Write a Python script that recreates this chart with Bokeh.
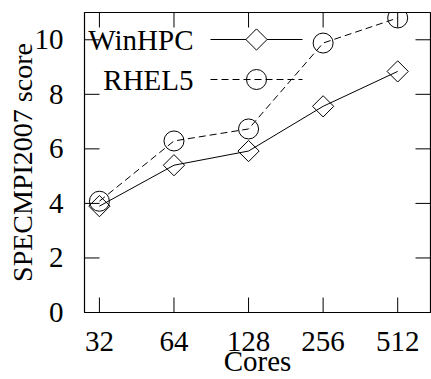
import numpy as np
from bokeh.plotting import figure
from bokeh.models import FixedTicker, Label, Range1d
from bokeh.embed import file_html
from bokeh.resources import INLINE

cores = [32, 64, 128, 256, 512]
core_labels = ["32", "64", "128", "256", "512"]
winhpc = [3.9, 5.4, 5.92, 7.56, 8.84]
rhel5 = [4.08, 6.29, 6.73, 9.88, 10.8]
y_ticks = [0, 2, 4, 6, 8, 10]
series_names = ["WinHPC", "RHEL5"]
x_title = "Cores"
y_title = "SPECMPI2007 score"

FONT = "Liberation Serif"
FS = "29px"

# frame geometry (px)
FW, FH = 346, 300
LX0, LX1 = 4.8, 9.44   # log2 range of x
Y0, Y1 = 0, 11
TICK = 15

p = figure(width=431, height=379, output_backend="svg", toolbar_location=None,
           x_axis_type="log", x_range=Range1d(2**LX0, 2**LX1), y_range=Range1d(Y0, Y1),
           min_border_left=84, min_border_bottom=67, min_border_top=12, min_border_right=1)
p.grid.visible = False
p.outline_line_color = "black"
p.outline_line_width = 1.2
p.background_fill_color = "white"
p.border_fill_color = "white"

def px2x(px):
    return 2 ** (LX0 + (LX1 - LX0) * px / FW)

def px2y(px):
    return Y0 + (Y1 - Y0) * px / FH

def style(ax):
    ax.major_tick_in = 0
    ax.major_tick_out = 0
    ax.minor_tick_line_color = None
    ax.axis_line_color = "black"
    ax.major_label_text_font = FONT
    ax.major_label_text_font_size = FS
    ax.major_label_text_color = "black"
    ax.axis_label_text_font = FONT
    ax.axis_label_text_font_size = FS
    ax.axis_label_text_font_style = "normal"
    ax.axis_label_text_color = "black"

xa = p.xaxis[0]
xa.ticker = FixedTicker(ticks=cores)
xa.major_label_overrides = {c: l for c, l in zip(cores, core_labels)}
xa.axis_label = x_title
style(xa)
xa.major_label_standoff = 19
xa.axis_label_standoff = -9

ya = p.yaxis[0]
ya.ticker = FixedTicker(ticks=y_ticks)
ya.axis_label = y_title
style(ya)
ya.axis_label_text_font_size = "28px"
ya.major_label_standoff = 21
ya.axis_label_standoff = -6

# inward ticks on all four sides
dy = px2y(TICK) - Y0
p.segment(x0=cores, y0=[Y0] * len(cores), x1=cores, y1=[Y0 + dy] * len(cores),
          line_color="black", line_width=1)
p.segment(x0=cores, y0=[Y1] * len(cores), x1=cores, y1=[Y1 - dy] * len(cores),
          line_color="black", line_width=1)
xl, xr = 2 ** LX0, 2 ** LX1
fx = px2x(TICK) / xl
p.segment(x0=[xl] * len(y_ticks), y0=y_ticks, x1=[xl * fx] * len(y_ticks), y1=y_ticks,
          line_color="black", line_width=1)
p.segment(x0=[xr] * len(y_ticks), y0=y_ticks, x1=[xr / fx] * len(y_ticks), y1=y_ticks,
          line_color="black", line_width=1)

p.line(cores, winhpc, line_color="black", line_width=1)
p.scatter(cores, winhpc, marker="square", angle=np.pi/4, size=15,
          fill_alpha=0, line_color="black", line_width=1)
p.line(cores, rhel5, line_color="black", line_width=1, line_dash="7 4")
p.scatter(cores, rhel5, marker="circle", size=20,
          fill_alpha=0, line_color="black", line_width=1)

# legend (label on the left, sample on the right), positioned in frame pixels
rows = [FH - 27, FH - 67]
lx0, lx1, lm = 126, 218, 172
ly = [px2y(r) for r in rows]
p.line([px2x(lx0), px2x(lx1)], [ly[0], ly[0]], line_color="black", line_width=1)
p.scatter([px2x(lm)], [ly[0]], marker="square", angle=np.pi/4, size=15,
          fill_color="white", line_color="black", line_width=1)
p.line([px2x(lx0), px2x(lx1)], [ly[1], ly[1]], line_color="black", line_width=1, line_dash="7 4")
p.scatter([px2x(lm)], [ly[1]], marker="circle", size=20,
          fill_alpha=0, line_color="black", line_width=1)
for txt, yy in zip(series_names, rows):
    p.add_layout(Label(x=109, y=yy, x_units="screen", y_units="screen", text=txt,
                       text_font=FONT, text_font_size=FS, text_align="right",
                       text_baseline="middle", text_color="black"))

open("out.html", "w").write(file_html(p, INLINE))
